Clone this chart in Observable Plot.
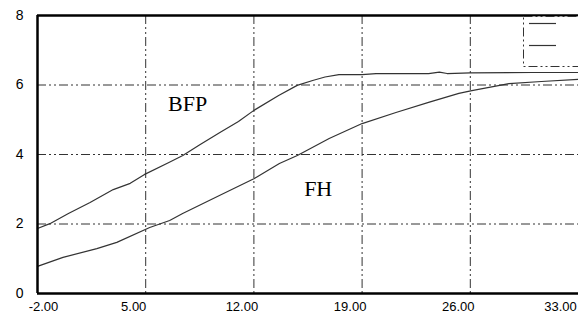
<!DOCTYPE html>
<html>
<head>
<meta charset="utf-8">
<script src="https://cdn.jsdelivr.net/npm/d3@7"></script>
<script src="https://cdn.jsdelivr.net/npm/@observablehq/plot@0.6"></script>
<style>
  html, body { margin: 0; padding: 0; background: #fff; }
  #wrap { position: relative; width: 578px; height: 323px; overflow: hidden; }
  #legend { position: absolute; left: 0; top: 0; }
</style>
</head>
<body>
<div id="wrap"></div>
<script>
// Series: BFP (upper curve)
const bfpX = [-2.0, -1.2, 0.0, 1.4, 2.9, 4.0, 4.9, 6.5, 7.4, 8.5, 9.8, 11.0, 12.0, 13.6, 14.8, 15.8, 16.6, 17.5, 19.0, 19.9, 23.3, 24.0, 24.5, 26.0, 30.0, 33.0];
const bfpY = [1.87, 2.01, 2.30, 2.62, 2.99, 3.17, 3.42, 3.77, 3.97, 4.28, 4.63, 4.95, 5.27, 5.70, 5.99, 6.13, 6.23, 6.30, 6.30, 6.33, 6.33, 6.37, 6.33, 6.35, 6.36, 6.36];
// Series: FH (lower curve)
const fhX = [-2.0, -0.35, 1.84, 3.13, 5.26, 6.55, 7.39, 9.77, 12.03, 13.65, 14.81, 16.87, 19.0, 21.19, 23.3, 25.26, 26.1, 28.5, 30.6, 33.0];
const fhY = [0.78, 1.04, 1.29, 1.47, 1.90, 2.10, 2.30, 2.82, 3.31, 3.74, 3.97, 4.46, 4.89, 5.21, 5.50, 5.76, 5.84, 6.04, 6.10, 6.16];
// Axis ticks
const xTicks = [-2, 5, 12, 19, 26, 33];
const yTicks = [0, 2, 4, 6, 8];
// Curve labels (data coordinates)
const curveLabels = ["BFP", "FH"];
const labelX = [6.45, 15.25];
const labelY = [5.24, 2.82];

const bfp = bfpX.map((x, i) => ({x, y: bfpY[i]}));
const fh = fhX.map((x, i) => ({x, y: fhY[i]}));
const labels = curveLabels.map((t, i) => ({t, x: labelX[i], y: labelY[i]}));

const dash = "9,3,2,3,2,3";
const tickFont = "Liberation Sans, Arial, sans-serif";
const fmt = d => d.toFixed(2);   // keeps ASCII hyphen for negatives

const chart = Plot.plot({
  width: 578,
  height: 323,
  marginLeft: 37,
  marginRight: 0,
  marginTop: 15,
  marginBottom: 30,
  style: {background: "#fff", fontFamily: tickFont, fontSize: "13px", color: "#000"},
  x: {domain: [-2, 33], type: "linear"},
  y: {domain: [0, 8]},
  marks: [
    Plot.gridX([5, 12, 19, 26], {stroke: "#333", strokeOpacity: 1, strokeDasharray: dash}),
    Plot.gridY([2, 4, 6], {stroke: "#333", strokeOpacity: 1, strokeDasharray: dash}),
    Plot.axisX([xTicks[0]], {tickSize: 0, tickPadding: 8, tickFormat: fmt, dx: 6, label: null, fontSize: 13, fill: "#000"}),
    Plot.axisX(xTicks.slice(1, 5), {tickSize: 0, tickPadding: 8, tickFormat: fmt, dx: -12, label: null, fontSize: 13, fill: "#000"}),
    Plot.axisX([xTicks[5]], {tickSize: 0, tickPadding: 8, tickFormat: fmt, dx: -18, label: null, fontSize: 13, fill: "#000"}),
    Plot.axisY(yTicks, {tickSize: 0, tickPadding: 14, tickFormat: d => String(d), label: null, fontSize: 14, fill: "#000"}),
    Plot.line(bfp, {x: "x", y: "y", stroke: "#333", strokeWidth: 1.2, curve: "linear"}),
    Plot.line(fh, {x: "x", y: "y", stroke: "#333", strokeWidth: 1.2, curve: "linear"}),
    Plot.ruleX([-2], {stroke: "#000", strokeWidth: 2.5}),
    Plot.ruleY([0, 8], {stroke: "#000", strokeWidth: 2.5}),
    Plot.text(labels, {x: "x", y: "y", text: "t", textAnchor: "start", lineAnchor: "bottom", fontFamily: "Liberation Serif, Times New Roman, serif", fontSize: 22, fill: "#000"})
  ]
});

const wrap = document.getElementById("wrap");
wrap.appendChild(chart);

// Legend box (no visible text in the reference; it is cut at the right edge)
const ns = "http://www.w3.org/2000/svg";
const lg = document.createElementNS(ns, "svg");
lg.setAttribute("id", "legend");
lg.setAttribute("width", 578);
lg.setAttribute("height", 323);
const box = document.createElementNS(ns, "rect");
box.setAttribute("x", 523.5); box.setAttribute("y", 16.5);
box.setAttribute("width", 70); box.setAttribute("height", 50);
box.setAttribute("fill", "#fff"); box.setAttribute("stroke", "#333");
box.setAttribute("stroke-dasharray", dash);
lg.appendChild(box);
[23.5, 45.5].forEach(yy => {
  const l = document.createElementNS(ns, "line");
  l.setAttribute("x1", 529); l.setAttribute("x2", 556);
  l.setAttribute("y1", yy); l.setAttribute("y2", yy);
  l.setAttribute("stroke", "#333"); l.setAttribute("stroke-width", 1.2);
  lg.appendChild(l);
});
wrap.appendChild(lg);
</script>
</body>
</html>
